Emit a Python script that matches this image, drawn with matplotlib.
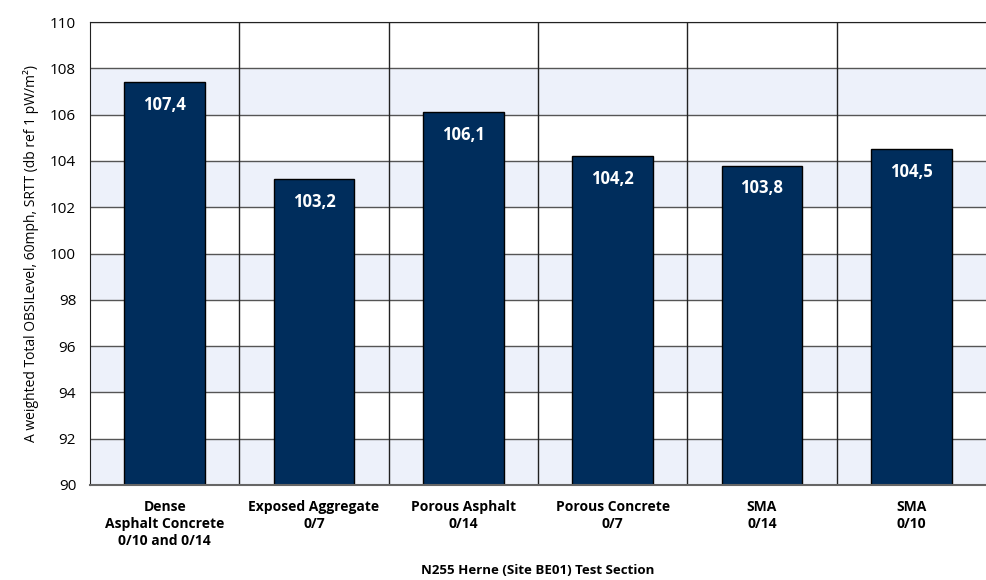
import matplotlib.pyplot as plt
import numpy as np

plt.rcParams['font.family'] = ['Open Sans', 'DejaVu Sans']

sections = ["Dense\nAsphalt Concrete\n0/10 and 0/14", "Exposed Aggregate\n0/7",
            "Porous Asphalt\n0/14", "Porous Concrete\n0/7", "SMA\n0/14", "SMA\n0/10"]
obsi_level = [107.4, 103.2, 106.1, 104.2, 103.8, 104.5]
y_ticks = list(range(90, 111, 2))

BAR_COLOR = "#002d5c"
BAND_COLOR = "#edf1fa"

fig = plt.figure(figsize=(9.86, 5.80), dpi=100)
ax = fig.add_axes([0.0913, 0.1638, 0.9087, 0.7982])

x = np.arange(len(sections))
ax.set_xlim(-0.5, len(sections) - 0.5)
ax.set_ylim(90, 110)

# alternating horizontal bands
for lo in range(90, 110, 4):
    ax.axhspan(lo, lo + 2, color=BAND_COLOR, zorder=0, lw=0)
for y in y_ticks[1:]:
    ax.axhline(y, color="#555555", lw=1, zorder=1)
for b in x[:-1] + 0.5:
    ax.axvline(b, color="#222222", lw=1, zorder=1)

bars = ax.bar(x, [v - 90 for v in obsi_level], bottom=90, width=0.54,
              color=BAR_COLOR, edgecolor="black", lw=1, zorder=2)
for xi, v in zip(x, obsi_level):
    ax.annotate(f"{v:.1f}".replace(".", ","), (xi, v), xytext=(0, -16.5),
                textcoords="offset points", ha="center", va="center",
                color="white", fontsize=12, fontweight="bold", zorder=3)

ax.set_yticks(y_ticks)
ax.set_yticklabels([str(t) for t in y_ticks], fontsize=11)
ax.set_xticks(x)
ax.set_xticklabels(sections, fontsize=10, fontweight="bold", linespacing=1.25)
ax.tick_params(axis="both", length=0)
ax.tick_params(axis="y", pad=10)
ax.tick_params(axis="x", pad=11)

ax.set_ylabel("A weighted Total OBSILevel, 60mph, SRTT (db ref 1 pW/m²)", fontsize=10, labelpad=8)
ax.set_xlabel("N255 Herne (Site BE01) Test Section", fontsize=9.5, fontweight="bold", labelpad=12)

ax.spines["right"].set_visible(False)
ax.spines["top"].set_color("#222222")
ax.spines["left"].set_color("#222222")
ax.spines["bottom"].set_color("#666666")
ax.spines["bottom"].set_linewidth(1.5)

fig.savefig("out.png", dpi=100)
